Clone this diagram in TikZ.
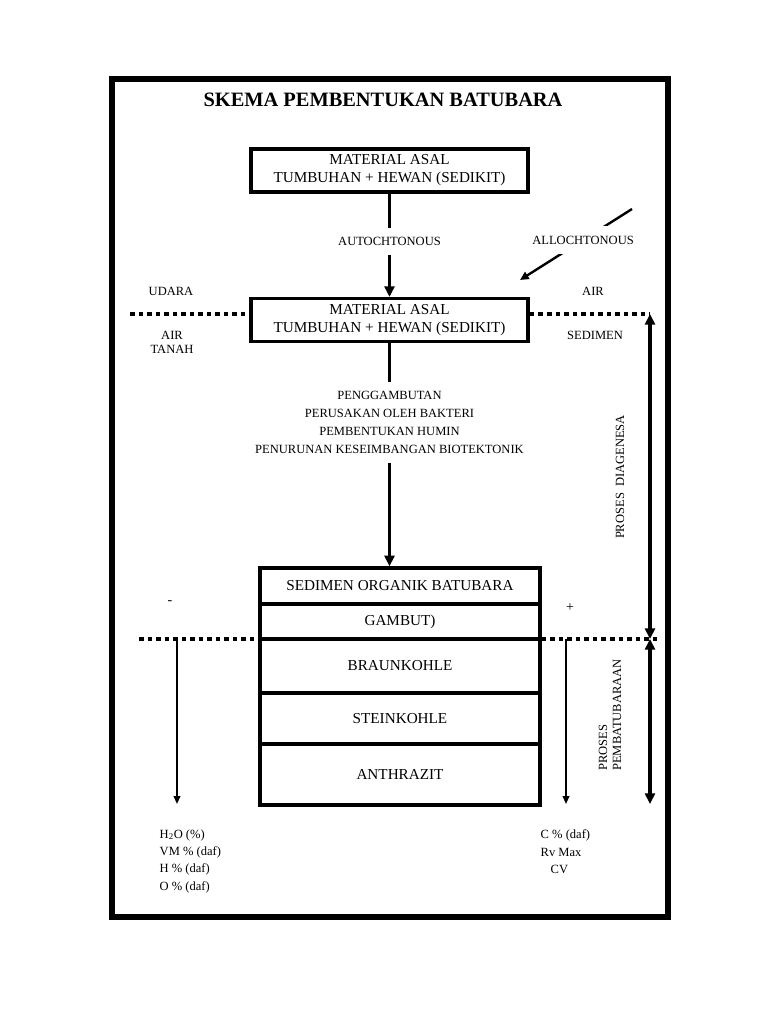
\documentclass[tikz,border=0pt]{standalone}
\usepackage{fontspec}
\setmainfont{Liberation Serif}
\usetikzlibrary{arrows.meta}

\begin{document}
\begin{tikzpicture}[
    x=0.75pt, y=-0.75pt,
    box/.style={rectangle, draw, line width=2.6pt, minimum width=208pt, minimum height=32pt, align=center, font=\fontsize{11.4}{13.5}\selectfont},
    layer/.style={rectangle, draw, line width=2.6pt, minimum width=210pt, font=\fontsize{11.4}{13.5}\selectfont},
    lbl/.style={font=\fontsize{9.4}{10.5}\selectfont, align=center},
    gap/.style={lbl, fill=white, inner xsep=2pt, inner ysep=7pt},
    arrow/.style={-{Triangle[length=8pt,width=7.5pt]}, line width=2.4pt},
    dual/.style={{Triangle[length=8pt,width=7.5pt]}-{Triangle[length=8pt,width=7.5pt]}, line width=2.4pt},
    measure/.style={-{Triangle[length=6pt,width=5pt]}, line width=1.3pt},
    dots/.style={line width=3pt, dash pattern=on 3.4pt off 3pt}
]
\useasboundingbox (0,0) rectangle (768,1024);
\draw[line width=4pt] (112,79) rectangle (668,917);

\node[font=\fontsize{15.3}{18}\selectfont\bfseries] (title) at (383,100) {SKEMA PEMBENTUKAN BATUBARA};

\node[box] (mat1) at (389.5,170.5) {MATERIAL ASAL\\TUMBUHAN + HEWAN (SEDIKIT)};
\node[box] (mat2) at (389.5,320) {MATERIAL ASAL\\TUMBUHAN + HEWAN (SEDIKIT)};

% lapisan batubara
\node[layer, minimum height=27pt] (sed) at (400,586) {SEDIMEN ORGANIK BATUBARA};
\node[layer, minimum height=26.25pt] (gmb) at (400,621.5) {GAMBUT)};
\node[layer, minimum height=40.5pt] (brk) at (400,666) {BRAUNKOHLE};
\node[layer, minimum height=38.25pt] (stk) at (400,718.5) {STEINKOHLE};
\node[layer, minimum height=45.75pt] (ant) at (400,774.5) {ANTHRAZIT};

\draw[arrow] (mat1) -- node[gap, pos=0.46] {AUTOCHTONOUS} (mat2);
\draw[arrow] (mat2.south) -- node[gap, pos=0.355, font=\fontsize{9.4}{13.5}\selectfont] {PENGGAMBUTAN\\PERUSAKAN OLEH BAKTERI\\PEMBENTUKAN HUMIN\\PENURUNAN KESEIMBANGAN BIOTEKTONIK} (mat2.south |- sed.north);

\coordinate (allo1) at (632,209);
\coordinate (allo2) at (520,280);
\draw[-{Triangle[length=6.5pt,width=6pt]}, line width=1.8pt] (allo1) -- node[gap, pos=0.437] {ALLOCHTONOUS} (allo2);

\node[lbl] (udara) at (171,291) {UDARA};
\node[lbl] (air) at (593,291) {AIR};
\node[lbl] (airtanah) at (172,342) {AIR\\TANAH};
\node[lbl] (sedimen) at (595,335) {SEDIMEN};
\node[lbl, font=\fontsize{10.5}{12}\selectfont] (minus) at (170,603) {-};
\node[lbl, font=\fontsize{10.5}{12}\selectfont] (plus) at (570,608) {+};

% batas permukaan
\coordinate (dl1) at (130,314);
\coordinate (dr1) at (650,314);
\coordinate (dl2) at (139,639);
\coordinate (dr2) at (658,639);
\draw[dots] (dl1) -- (dl1 -| mat2.west);
\draw[dots] (dr1 -| mat2.east) -- (dr1);
\draw[dots] (dl2) -- (dl2 -| gmb.west);
\draw[dots] (dr2 -| gmb.east) -- (dr2);

\coordinate (mid) at (650,639);
\coordinate (bot) at (650,804);
\draw[dual] (dr1) -- (mid);
\draw[dual] (mid) -- (bot);
\node[lbl, rotate=90] (diag) at (620,477) {PROSES\ \ DIAGENESA};
\node[lbl, rotate=90, align=left] (pmb) at (610,715) {PROSES\\PEMBATUBARAAN};

\coordinate (lt) at (177,639);
\coordinate (lb) at (177,804);
\coordinate (rt) at (566,639);
\coordinate (rb) at (566,804);
\draw[measure] (lt) -- (lb);
\draw[measure] (rt) -- (rb);

\node[lbl, align=left, anchor=west, font=\fontsize{9.4}{13}\selectfont] (kiri) at (155,861) {H\textsubscript{2}O (\%)\\VM \% (daf)\\H \% (daf)\\O \% (daf)};
\node[lbl, align=left, anchor=west, font=\fontsize{9.4}{13}\selectfont] (kanan) at (536,852) {C \% (daf)\\Rv Max\\\hspace*{7.5pt}CV};
\end{tikzpicture}
\end{document}
